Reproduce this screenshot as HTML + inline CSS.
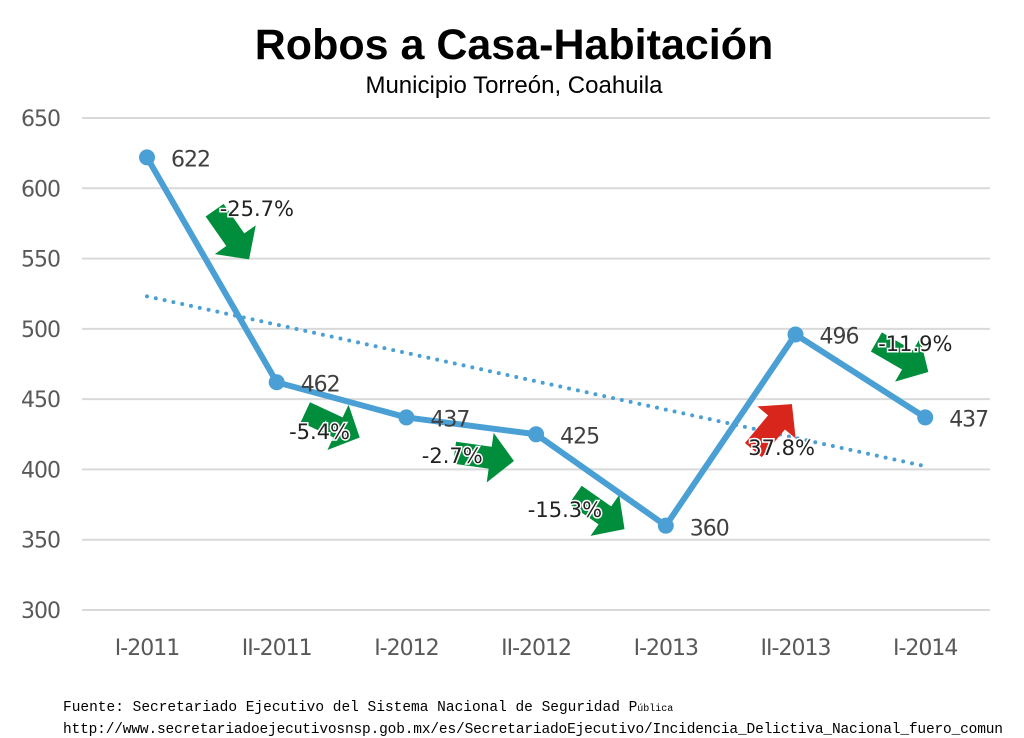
<!DOCTYPE html>
<html><head><meta charset="utf-8"><style>
body{margin:0;background:#fff;width:1024px;height:738px;overflow:hidden}
svg{display:block}
</style></head><body>
<svg id="chart" width="1024" height="738" xmlns="http://www.w3.org/2000/svg" font-family="Liberation Sans, DejaVu Sans, sans-serif">
<rect width="1024" height="738" fill="#fff"/>
<text x="514" y="59" text-anchor="middle" font-size="43" font-weight="bold" fill="#000">Robos a Casa-Habitación</text>
<text x="514" y="93" text-anchor="middle" font-size="24" fill="#000">Municipio Torreón, Coahuila</text>
<g id="grid"></g><g id="yt"></g><g id="xt"></g><g id="trend"></g><g id="arrows"></g><g id="line"></g><g id="vals"></g>
<text x="63" y="711" font-family="Liberation Mono, monospace" font-size="14.5" fill="#000">Fuente: Secretariado Ejecutivo del Sistema Nacional de Seguridad P<tspan font-size="10">ública</tspan></text>
<text x="63" y="733" font-family="Liberation Mono, monospace" font-size="14.5" fill="#000" textLength="940">http://www.secretariadoejecutivosnsp.gob.mx/es/SecretariadoEjecutivo/Incidencia_Delictiva_Nacional_fuero_comun</text>
</svg>
<script>
const categories=["I-2011","II-2011","I-2012","II-2012","I-2013","II-2013","I-2014"];
const values=[622,462,437,425,360,496,437];
const yTicks=[300,350,400,450,500,550,600,650];
const NS="http://www.w3.org/2000/svg";
const X=i=>147+i*129.7;
const Y=v=>610-(v-300)*(492/350);
function mk(t,a,p){const e=document.createElementNS(NS,t);for(const k in a)e.setAttribute(k,a[k]);document.getElementById(p).appendChild(e);return e;}
yTicks.forEach(v=>{
 const g=mk("line",{x1:82,x2:990,y1:Y(v),y2:Y(v),stroke:"#d9d9d9","stroke-width":2},"grid");
 
 
 const t=mk("text",{x:60,y:Y(v)+8,"text-anchor":"end","font-size":22,fill:"#595959","font-family":"DejaVu Sans, sans-serif","letter-spacing":"-1"},"yt");
 t.textContent=v;
 
 
});
categories.forEach((c,i)=>{
 const t=mk("text",{x:X(i),y:655,"text-anchor":"middle","font-size":22,fill:"#595959","font-family":"DejaVu Sans, sans-serif","letter-spacing":"-1"},"xt");
 t.textContent=c;
 
 
});
const n=values.length;let sx=0,sy=0,sxy=0,sxx=0;
values.forEach((v,i)=>{sx+=i;sy+=v;sxy+=i*v;sxx+=i*i;});
const b=(n*sxy-sx*sy)/(n*sxx-sx*sx),a0=(sy-b*sx)/n;
const tr=mk("line",{x1:X(0),y1:Y(a0),x2:X(n-1),y2:Y(a0+b*(n-1)),stroke:"#4a9fd4","stroke-width":4,"stroke-dasharray":"0 9","stroke-linecap":"round"},"trend");


const arrOff=[[20,-35],[-9,25],[13,31],[-1,32],[42,-3],[42,-19]];
const labOff=[[45,-56],[-22,37],[-19,35],[-36,35],[51,23],[55,-27]];
const ang=[55,25,8,35,-50,30];
for(let i=0;i<n-1;i++){
 const mx=(X(i)+X(i+1))/2,my=(Y(values[i])+Y(values[i+1]))/2;
 const pct=(values[i+1]-values[i])/values[i]*100;
 const up=pct>0;
 const ax=mx+arrOff[i][0],ay=my+arrOff[i][1];
 const p=mk("polygon",{points:"-30,-11 6,-11 6,-25 30,0 6,25 6,11 -30,11",fill:up?"#d9261c":"#008e3c",transform:`translate(${ax},${ay}) rotate(${ang[i]})`},"arrows");
 
 
 const lx=mx+labOff[i][0],ly=my+labOff[i][1];
 const s=(up?"":"-")+Math.abs(pct).toFixed(1)+"%";
 const t=mk("text",{x:lx,y:ly+2,"text-anchor":"middle","font-size":21,fill:"#222","font-family":"DejaVu Sans, sans-serif",stroke:"#fff","stroke-width":3,"paint-order":"stroke"},"arrows");
 t.textContent=s;
 
 
}
const pl=mk("polyline",{points:values.map((v,i)=>X(i)+","+Y(v)).join(" "),fill:"none",stroke:"#4a9fd4","stroke-width":6,"stroke-linejoin":"round"},"line");


values.forEach((v,i)=>{
 const c=mk("circle",{cx:X(i),cy:Y(v),r:8,fill:"#4a9fd4"},"line");
 
 
 const t=mk("text",{x:X(i)+24,y:Y(v)+(i==4?10:9),"font-size":22,fill:"#404040","font-family":"DejaVu Sans, sans-serif","letter-spacing":"-1"},"vals");
 t.textContent=v;
 
 
});
</script>
</body></html>
